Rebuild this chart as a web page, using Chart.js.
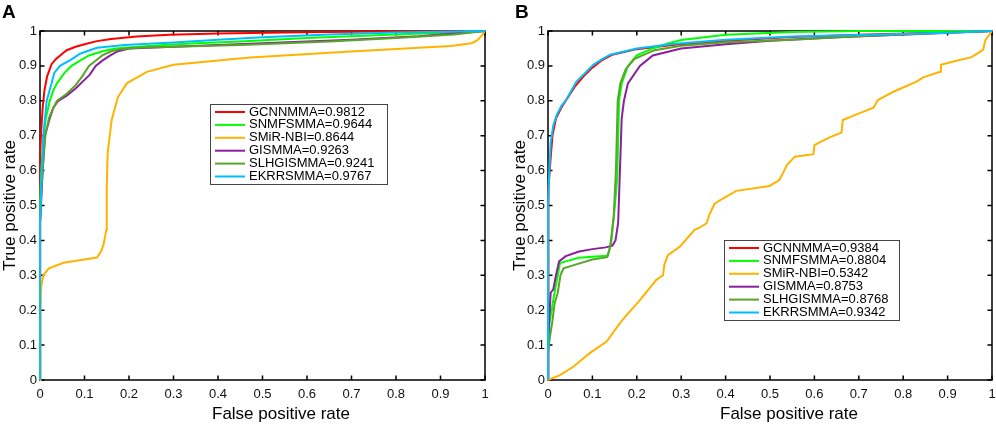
<!DOCTYPE html>
<html lang="en">
<head>
  <meta charset="UTF-8">
  <title>ROC curves - miRNA/disease association methods</title>
  <script src="https://cdn.jsdelivr.net/npm/chart.js"></script>
  <style>
    body {
      margin: 0;
      background: #fff;
    }
    .wrap {
      position: relative;
      width: 996px;
      height: 425px;
    }
    .panel {
      position: absolute;
      top: 0;
      width: 498px;
      height: 425px;
    }
    #panelA { left: 0; }
    #panelB { left: 498px; }
  </style>
</head>
<body>

<div class="wrap">
  <div class="panel" id="panelA"><canvas id="chartA"></canvas></div>
  <div class="panel" id="panelB"><canvas id="chartB"></canvas></div>
</div>

<script>
  // ---- data ----
  const methods = ['GCNNMMA', 'SNMFSMMA', 'SMiR-NBI', 'GISMMA', 'SLHGISMMA', 'EKRRSMMA'];
  const colors  = ['#ff0000', '#00ff00', '#ffb300', '#8b1f9e', '#58a52a', '#00bfff'];
  const aucA = ['0.9812', '0.9644', '0.8644', '0.9263', '0.9241', '0.9767'];
  const aucB = ['0.9384', '0.8804', '0.5342', '0.8753', '0.8768', '0.9342'];
  const axisTicks = [0, 0.1, 0.2, 0.3, 0.4, 0.5, 0.6, 0.7, 0.8, 0.9, 1];
  const axisTickLabels = ['0', '0.1', '0.2', '0.3', '0.4', '0.5', '0.6', '0.7', '0.8', '0.9', '1'];

  // panel A
  const fprA_gcn = [0, 0, 0.001, 0.003, 0.006, 0.01, 0.016, 0.026, 0.036, 0.05, 0.06, 0.08, 0.1, 0.128, 0.16, 0.217, 0.29, 0.4, 0.55, 0.7, 0.85, 1];
  const tprA_gcn = [0, 0.55, 0.65, 0.72, 0.78, 0.83, 0.87, 0.905, 0.92, 0.935, 0.945, 0.955, 0.962, 0.971, 0.977, 0.984, 0.989, 0.993, 0.996, 0.998, 0.999, 1];
  const fprA_snmf = [0, 0, 0.003, 0.008, 0.013, 0.022, 0.03, 0.038, 0.055, 0.071, 0.09, 0.11, 0.14, 0.17, 0.22, 0.28, 0.35, 0.45, 0.6, 0.8, 1];
  const tprA_snmf = [0, 0.5, 0.6, 0.7, 0.75, 0.8, 0.83, 0.85, 0.88, 0.9, 0.915, 0.93, 0.942, 0.95, 0.955, 0.96, 0.965, 0.97, 0.98, 0.99, 1];
  const fprA_nbi = [0, 0.001, 0.003, 0.0075, 0.02, 0.053, 0.1, 0.128, 0.138, 0.143, 0.149, 0.15, 0.152, 0.161, 0.175, 0.195, 0.24, 0.3, 0.43, 0.473, 0.698, 0.923, 0.97, 0.983, 0.995, 1];
  const tprA_nbi = [0, 0.2, 0.27, 0.3, 0.32, 0.336, 0.345, 0.351, 0.37, 0.39, 0.43, 0.55, 0.65, 0.745, 0.81, 0.85, 0.883, 0.903, 0.919, 0.924, 0.941, 0.957, 0.965, 0.974, 0.99, 1];
  const fprA_gis = [0, 0, 0.003, 0.006, 0.011, 0.022, 0.03, 0.041, 0.06, 0.08, 0.1, 0.112, 0.125, 0.14, 0.158, 0.175, 0.2, 0.3, 0.5, 0.7, 0.85, 1];
  const tprA_gis = [0, 0.45, 0.52, 0.6, 0.7, 0.75, 0.78, 0.8, 0.815, 0.835, 0.86, 0.875, 0.9, 0.915, 0.93, 0.942, 0.95, 0.955, 0.965, 0.975, 0.985, 1];
  const fprA_slh = [0, 0, 0.003, 0.007, 0.012, 0.02, 0.03, 0.038, 0.06, 0.08, 0.095, 0.11, 0.125, 0.14, 0.16, 0.18, 0.22, 0.3, 0.45, 0.65, 0.8, 0.93, 1];
  const tprA_slh = [0, 0.45, 0.55, 0.62, 0.7, 0.75, 0.78, 0.8, 0.82, 0.845, 0.87, 0.9, 0.915, 0.93, 0.942, 0.948, 0.952, 0.955, 0.96, 0.97, 0.98, 0.99, 1];
  const fprA_ekrr = [0, 0, 0.004, 0.0075, 0.015, 0.026, 0.032, 0.045, 0.07, 0.09, 0.128, 0.19, 0.3, 0.4, 0.5, 0.65, 0.8, 1];
  const tprA_ekrr = [0, 0.45, 0.6, 0.7, 0.8, 0.85, 0.88, 0.9, 0.918, 0.935, 0.952, 0.96, 0.967, 0.975, 0.982, 0.99, 0.996, 1];

  // panel B
  const fprB_gcn = [0, 0, 0.002, 0.005, 0.01, 0.018, 0.03, 0.045, 0.06, 0.08, 0.1, 0.12, 0.145, 0.2, 0.28, 0.4, 0.55, 0.7, 0.85, 1];
  const tprB_gcn = [0, 0.45, 0.55, 0.62, 0.7, 0.75, 0.78, 0.81, 0.84, 0.87, 0.895, 0.915, 0.932, 0.948, 0.96, 0.972, 0.983, 0.989, 0.994, 1];
  const fprB_snmf = [0, 0, 0.003, 0.008, 0.016, 0.022, 0.027, 0.04, 0.07, 0.1, 0.135, 0.143, 0.15, 0.156, 0.16, 0.166, 0.18, 0.2, 0.236, 0.27, 0.3, 0.4, 0.55, 0.7, 1];
  const tprB_snmf = [0, 0.1, 0.16, 0.2, 0.26, 0.3, 0.335, 0.34, 0.35, 0.353, 0.356, 0.4, 0.49, 0.58, 0.8, 0.85, 0.9, 0.93, 0.95, 0.964, 0.974, 0.989, 0.997, 1, 1];
  const fprB_nbi = [0, 0.027, 0.057, 0.094, 0.132, 0.162, 0.177, 0.207, 0.244, 0.259, 0.262, 0.27, 0.297, 0.33, 0.342, 0.357, 0.364, 0.375, 0.394, 0.424, 0.499, 0.521, 0.53, 0.538, 0.556, 0.598, 0.6, 0.624, 0.643, 0.661, 0.664, 0.695, 0.733, 0.743, 0.778, 0.83, 0.845, 0.883, 0.885, 0.92, 0.954, 0.98, 0.985, 1];
  const tprB_nbi = [0, 0.014, 0.038, 0.077, 0.11, 0.163, 0.186, 0.229, 0.287, 0.3, 0.33, 0.358, 0.382, 0.43, 0.437, 0.449, 0.475, 0.505, 0.52, 0.542, 0.556, 0.573, 0.595, 0.616, 0.64, 0.647, 0.673, 0.689, 0.7, 0.709, 0.745, 0.761, 0.78, 0.802, 0.826, 0.855, 0.867, 0.883, 0.903, 0.915, 0.925, 0.946, 0.974, 1];
  const fprB_gis = [0, 0, 0.003, 0.006, 0.012, 0.018, 0.025, 0.04, 0.07, 0.1, 0.13, 0.145, 0.152, 0.158, 0.162, 0.166, 0.171, 0.18, 0.207, 0.236, 0.3, 0.4, 0.5, 0.65, 0.85, 1];
  const tprB_gis = [0, 0.1, 0.18, 0.25, 0.26, 0.3, 0.34, 0.355, 0.368, 0.375, 0.38, 0.385, 0.4, 0.45, 0.6, 0.75, 0.8, 0.85, 0.9, 0.93, 0.95, 0.962, 0.972, 0.982, 0.992, 1];
  const fprB_slh = [0, 0, 0.004, 0.01, 0.015, 0.022, 0.028, 0.035, 0.06, 0.1, 0.133, 0.14, 0.148, 0.153, 0.157, 0.163, 0.175, 0.195, 0.24, 0.3, 0.4, 0.55, 0.7, 0.85, 1];
  const tprB_slh = [0, 0.08, 0.12, 0.17, 0.22, 0.25, 0.3, 0.32, 0.33, 0.345, 0.352, 0.38, 0.47, 0.6, 0.8, 0.85, 0.89, 0.92, 0.945, 0.958, 0.968, 0.975, 0.985, 0.993, 1];
  const fprB_ekrr = [0, 0, 0.003, 0.006, 0.012, 0.02, 0.03, 0.042, 0.064, 0.08, 0.102, 0.12, 0.14, 0.2, 0.28, 0.4, 0.55, 0.75, 0.9, 1];
  const tprB_ekrr = [0, 0.5, 0.6, 0.68, 0.73, 0.76, 0.785, 0.805, 0.855, 0.875, 0.903, 0.918, 0.932, 0.95, 0.963, 0.975, 0.984, 0.99, 0.995, 1];

  const curvesA = [[fprA_gcn, tprA_gcn], [fprA_snmf, tprA_snmf], [fprA_nbi, tprA_nbi],
                   [fprA_gis, tprA_gis], [fprA_slh, tprA_slh], [fprA_ekrr, tprA_ekrr]];
  const curvesB = [[fprB_gcn, tprB_gcn], [fprB_snmf, tprB_snmf], [fprB_nbi, tprB_nbi],
                   [fprB_gis, tprB_gis], [fprB_slh, tprB_slh], [fprB_ekrr, tprB_ekrr]];

  // ---- drawing ----
  const FONT = 'Arial, "Liberation Sans", Helvetica, sans-serif';
  Chart.defaults.font.family = FONT;
  Chart.defaults.color = '#111';

  // black box round the plot area with inward tick marks on all sides
  const frameAndTicks = {
    id: 'frameAndTicks',
    beforeDatasetsDraw(chart) {
      const { ctx, chartArea: a, scales: { x, y } } = chart;
      const len = 4.5;
      ctx.save();
      ctx.strokeStyle = '#000';
      ctx.lineWidth = 1.5;
      ctx.strokeRect(a.left, a.top, a.right - a.left, a.bottom - a.top);
      ctx.beginPath();
      x.ticks.forEach(t => {
        const px = x.getPixelForValue(t.value);
        ctx.moveTo(px, a.bottom); ctx.lineTo(px, a.bottom - len);
        ctx.moveTo(px, a.top);    ctx.lineTo(px, a.top + len);
      });
      y.ticks.forEach(t => {
        const py = y.getPixelForValue(t.value);
        ctx.moveTo(a.left, py);  ctx.lineTo(a.left + len, py);
        ctx.moveTo(a.right, py); ctx.lineTo(a.right - len, py);
      });
      ctx.stroke();
      ctx.restore();
    }
  };

  // boxed legend placed inside the plot
  const boxLegend = {
    id: 'boxLegend',
    afterDatasetsDraw(chart, args, opts) {
      const { ctx } = chart;
      const b = opts.box;
      ctx.save();
      ctx.fillStyle = '#fff';
      ctx.fillRect(b.left, b.top, b.width, b.height);
      ctx.strokeStyle = '#444';
      ctx.lineWidth = 1;
      ctx.strokeRect(b.left + 0.5, b.top + 0.5, b.width, b.height);
      ctx.font = '13px ' + FONT;
      ctx.textBaseline = 'middle';
      chart.data.datasets.forEach((ds, i) => {
        const cy = b.top + 8 + i * 12.9;
        ctx.strokeStyle = ds.borderColor;
        ctx.lineWidth = 2;
        ctx.beginPath();
        ctx.moveTo(b.left + 5, cy);
        ctx.lineTo(b.left + 35, cy);
        ctx.stroke();
        ctx.fillStyle = '#000';
        ctx.fillText(ds.label, b.left + 39, cy);
      });
      ctx.restore();
    }
  };

  // panel letter and x axis label
  const panelText = {
    id: 'panelText',
    afterDraw(chart, args, opts) {
      const { ctx, chartArea: a } = chart;
      ctx.save();
      ctx.fillStyle = '#000';
      ctx.textBaseline = 'alphabetic';
      ctx.font = 'bold 19px ' + FONT;
      ctx.fillText(opts.letter, opts.letterX, 18);
      ctx.font = '17px ' + FONT;
      ctx.fillText('False positive rate', a.left + 172, 419);
      ctx.restore();
    }
  };

  const tickLabel = (value, index) => axisTickLabels[index];

  function makeChart(id, curves, aucs, cfg) {
    const datasets = curves.map((c, i) => ({
      label: methods[i] + '=' + aucs[i],
      data: c[0].map((x, k) => ({ x: x, y: c[1][k] })),
      borderColor: colors[i],
      borderWidth: 2,
      pointRadius: 0,
      tension: 0,
      fill: false,
      clip: false,
      order: methods.length - 1 - i
    }));

    return new Chart(document.getElementById(id), {
      type: 'line',
      data: { datasets: datasets },
      plugins: [frameAndTicks, boxLegend, panelText],
      options: {
        responsive: true,
        maintainAspectRatio: false,
        animation: false,
        layout: { padding: { left: 0, top: 31, right: cfg.padRight, bottom: 0 } },
        plugins: {
          legend: { display: false },
          tooltip: { enabled: false },
          boxLegend: { box: cfg.legendBox },
          panelText: { letter: cfg.letter, letterX: cfg.letterX }
        },
        scales: {
          x: {
            type: 'linear',
            min: 0,
            max: 1,
            afterBuildTicks: s => { s.ticks = axisTicks.map(v => ({ value: v })); },
            afterFit: s => { s.height = 45; s.paddingLeft = 0; s.paddingRight = 0; },
            grid: { display: false, drawTicks: false },
            border: { display: false },
            ticks: { font: { size: 13 }, color: '#111', padding: 7, maxRotation: 0, autoSkip: false, callback: tickLabel }
          },
          y: {
            type: 'linear',
            min: 0,
            max: 1,
            afterBuildTicks: s => { s.ticks = axisTicks.map(v => ({ value: v })); },
            afterFit: s => { s.width = cfg.yWidth; s.paddingTop = 0; s.paddingBottom = 0; },
            grid: { display: false, drawTicks: false },
            border: { display: false },
            ticks: { font: { size: 13 }, color: '#111', padding: 3, autoSkip: false, callback: tickLabel },
            title: {
              display: true,
              text: 'True positive rate',
              font: { size: 17 },
              color: '#000',
              padding: { top: cfg.titlePad, bottom: 0 }
            }
          }
        }
      }
    });
  }

  makeChart('chartA', curvesA, aucA, {
    letter: 'A', letterX: 2, yWidth: 40, padRight: 13, titlePad: 0,
    legendBox: { left: 210, top: 104, width: 177, height: 80 }
  });
  makeChart('chartB', curvesB, aucB, {
    letter: 'B', letterX: 17, yWidth: 50, padRight: 4, titlePad: 12,
    legendBox: { left: 226, top: 240, width: 175, height: 80 }
  });
</script>

</body>
</html>
